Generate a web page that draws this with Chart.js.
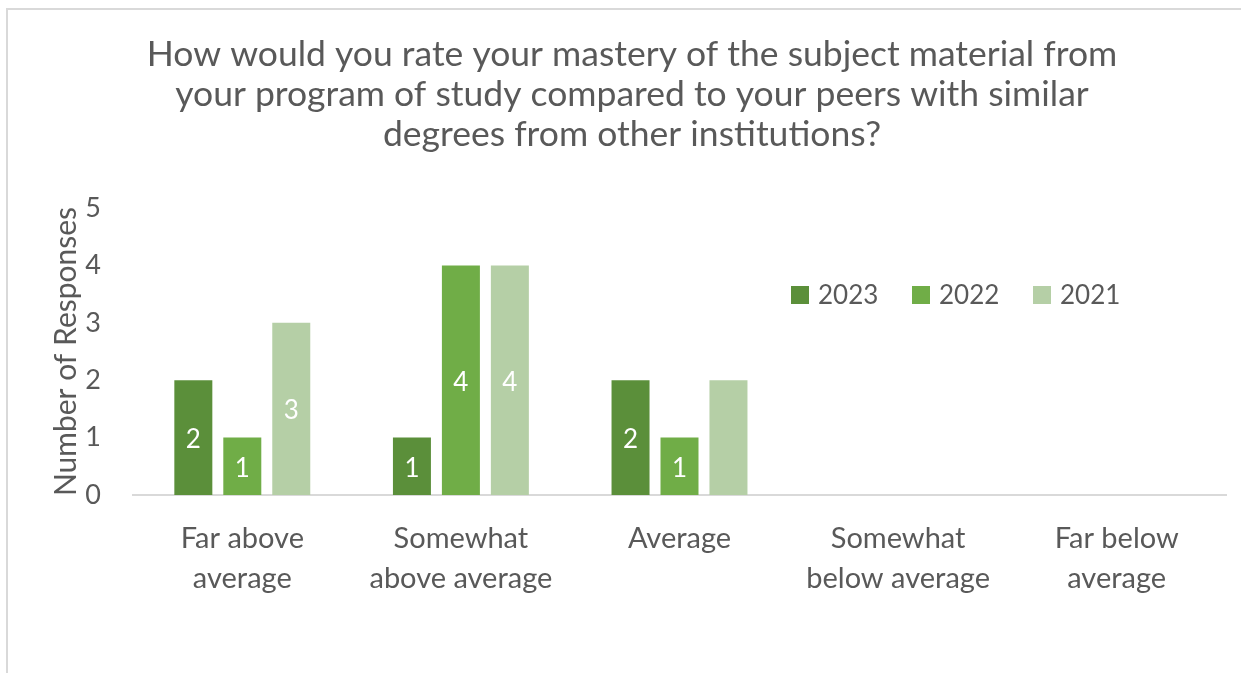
<!DOCTYPE html>
<html>
<head>
<meta charset="utf-8">
<script src="https://cdn.jsdelivr.net/npm/chart.js@4"></script>
<style>
  html, body { margin: 0; padding: 0; background: #fff; }
  #wrap { position: relative; width: 1241px; height: 673px; overflow: hidden; }
  #frame { position: absolute; left: 6px; top: 8px; width: 1300px; height: 700px;
           border-top: 2px solid #d9d9d9; border-left: 2px solid #d9d9d9; }
  #grafico { position: absolute; left: 0; top: 0; }
</style>
</head>
<body>
<div id="wrap">
  <div id="frame"></div>
  <canvas id="grafico" width="1241" height="673"></canvas>
</div>
<script>
// ================= DADOS =================
const categorias = [
  ["Far above", "average"],
  ["Somewhat", "above average"],
  "Average",
  ["Somewhat", "below average"],
  ["Far below", "average"]
];

const anos = ["2023", "2022", "2021"];

const valores2023 = [2, 1, 2, 0, 0];
const valores2022 = [1, 4, 1, 0, 0];
const valores2021 = [3, 4, 2, 0, 0];

// o rótulo da barra "Average / 2021" não aparece no original
const rotulos2023 = [true, true, true, false, false];
const rotulos2022 = [true, true, true, false, false];
const rotulos2021 = [true, true, false, false, false];

const cores = ["#5b8f3a", "#70ad47", "#b5cfa6"];

const titulo = [
  "How would you rate your mastery of the subject material from",
  "your program of study compared to your peers with similar",
  "degrees from other institutions?"
];

const FONTE = "Lato, 'Open Sans', sans-serif";
const CINZA = "#595959";

// ================= PLUGINS =================
const rotulosBarras = {
  id: "rotulosBarras",
  afterDatasetsDraw(chart) {
    const c = chart.ctx;
    c.save();
    c.font = "26px " + FONTE;
    c.fillStyle = "#ffffff";
    c.textAlign = "center";
    c.textBaseline = "middle";
    chart.data.datasets.forEach((ds, i) => {
      chart.getDatasetMeta(i).data.forEach((bar, j) => {
        if (!ds.mostrar[j]) return;
        c.fillText(String(ds.data[j]), bar.x, (bar.y + bar.base) / 2 + 2);
      });
    });
    c.restore();
  }
};

const legendaDentro = {
  id: "legendaDentro",
  afterDraw(chart) {
    const c = chart.ctx;
    const a = chart.chartArea;
    let x = a.left + 658;
    const y = a.top + 87;
    c.save();
    c.font = "26px " + FONTE;
    c.textBaseline = "middle";
    chart.data.datasets.forEach(ds => {
      c.fillStyle = ds.backgroundColor;
      c.fillRect(x, y - 9, 18, 18);
      c.fillStyle = CINZA;
      c.fillText(ds.label, x + 27, y + 1);
      x += 121;
    });
    c.restore();
  }
};

// ================= GRÁFICO =================
const ctx = document.getElementById("grafico").getContext("2d");

const series = [valores2023, valores2022, valores2021];
const rotulos = [rotulos2023, rotulos2022, rotulos2021];

new Chart(ctx, {
  type: "bar",
  data: {
    labels: categorias,
    datasets: anos.map((a, i) => ({
      label: a,
      data: series[i],
      mostrar: rotulos[i],
      backgroundColor: cores[i],
      borderWidth: 0,
      categoryPercentage: 0.672,
      barPercentage: 0.776
    }))
  },
  options: {
    responsive: false,
    animation: false,
    layout: { padding: { left: 38, right: 15, top: 0, bottom: 0 } },
    plugins: {
      legend: { display: false },
      tooltip: { enabled: false },
      title: {
        display: true,
        text: titulo,
        color: CINZA,
        font: { family: FONTE, size: 35.5, weight: "normal", lineHeight: 40 / 35.5 },
        padding: { top: 35, bottom: 53 }
      }
    },
    scales: {
      x: {
        grid: { display: false },
        border: { display: true, color: "#d9d9d9", width: 2 },
        ticks: {
          color: CINZA,
          padding: 16,
          maxRotation: 0,
          autoSkip: false,
          font: { family: FONTE, size: 29, lineHeight: 40 / 29 }
        },
        afterFit(s) { s.height = 178; }
      },
      y: {
        min: 0,
        max: 5,
        grid: { display: false },
        border: { display: false },
        ticks: {
          stepSize: 1,
          color: CINZA,
          padding: 24,
          font: { family: FONTE, size: 27 }
        },
        title: {
          display: true,
          text: "Number of Responses",
          color: CINZA,
          padding: { top: 10 },
          font: { family: FONTE, size: 30 }
        },
        afterFit(s) { s.width = 95; }
      }
    }
  },
  plugins: [rotulosBarras, legendaDentro]
});
</script>
</body>
</html>
